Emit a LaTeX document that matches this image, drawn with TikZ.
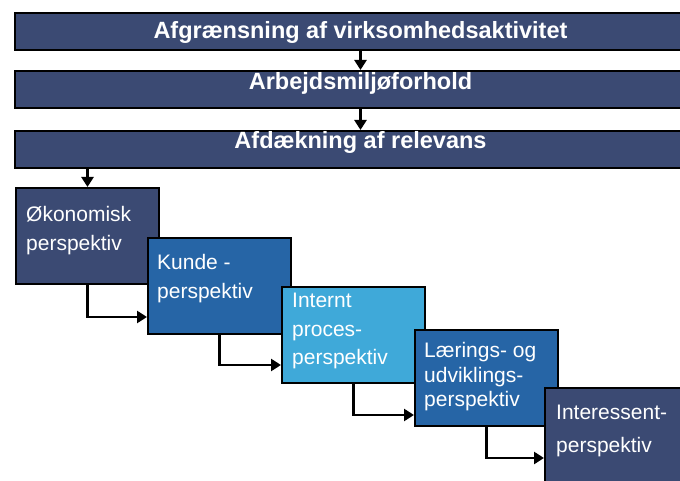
\documentclass[tikz,border=0pt]{standalone}
\usepackage{fontspec}
\setmainfont{Liberation Sans}
\usetikzlibrary{arrows.meta}
\definecolor{navy}{RGB}{59,74,115}
\definecolor{midblue}{RGB}{38,101,166}
\definecolor{skyblue}{RGB}{63,169,217}

\begin{document}
\begin{tikzpicture}[x=1pt, y=-1pt,
    bar/.style={draw=black, line width=2pt, fill=navy, anchor=north west, minimum width=720pt, minimum height=37pt, inner sep=0pt},
    bartext/.style={text=white, anchor=base, inner sep=0pt, font=\fontsize{23.5}{28}\selectfont\bfseries},
    persp/.style={draw=black, line width=2pt, anchor=north west, minimum width=143pt, minimum height=96pt, inner sep=0pt},
    persptext/.style={text=white, anchor=west, align=left, inner sep=0pt, font=\fontsize{21}{29}\selectfont},
    conn/.style={line width=2.5pt, -{Triangle[length=10pt,width=12pt]}}]
    \path[use as bounding box, clip] (0,0) rectangle (680,481);
    \node[bar] (a1) at (14,12) {};
    \node[bartext] (t1) at (360.5,39) {Afgrænsning af virksomhedsaktivitet};
    \node[bar] (a2) at (14,70) {};
    \node[bartext] (t2) at (360.5,90) {Arbejdsmiljøforhold};
    \node[bar] (a3) at (14,130) {};
    \node[bartext] (t3) at (360.5,149) {Afdækning af relevans};
    \node[persp, fill=navy] (b1) at (15,187) {};
    \node[persptext] (l1) at ([xshift=11pt, yshift=5pt]b1.west) {Økonomisk\\perspektiv};
    \node[persp, fill=midblue] (b2) at (147,237) {};
    \node[persptext] (l2) at ([xshift=10pt, yshift=7pt]b2.west) {Kunde -\\perspektiv};
    \node[persp, fill=skyblue] (b3) at (281,286) {};
    \node[persptext, font=\fontsize{21}{28.5}\selectfont] (l3) at ([xshift=11pt, yshift=4pt]b3.west) {Internt\\proces-\\perspektiv};
    \node[persp, fill=midblue] (b4) at (414,329) {};
    \node[persptext, font=\fontsize{21}{24.5}\selectfont] (l4) at ([xshift=10pt, yshift=1pt]b4.west) {Lærings- og\\udviklings-\\perspektiv};
    \node[persp, fill=navy] (b5) at (544,387) {};
    \node[persptext, font=\fontsize{21}{33}\selectfont] (l5) at ([xshift=12pt, yshift=5pt]b5.west) {Interessent-\\perspektiv};
    \draw[conn] (t1 |- a1.south) -- (t1 |- a2.north);
    \draw[conn] (t2 |- a2.south) -- (t2 |- a3.north);
    \draw[conn] (b1 |- a3.south) -- (b1.north);
    \draw[conn] (b1.south) |- ([yshift=-80pt]b2.north west);
    \draw[conn] (b2.south) |- ([yshift=-79pt]b3.north west);
    \draw[conn] (b3.south) |- ([yshift=-86pt]b4.north west);
    \draw[conn] (b4.south) |- ([yshift=-71pt]b5.north west);
\end{tikzpicture}
\end{document}
